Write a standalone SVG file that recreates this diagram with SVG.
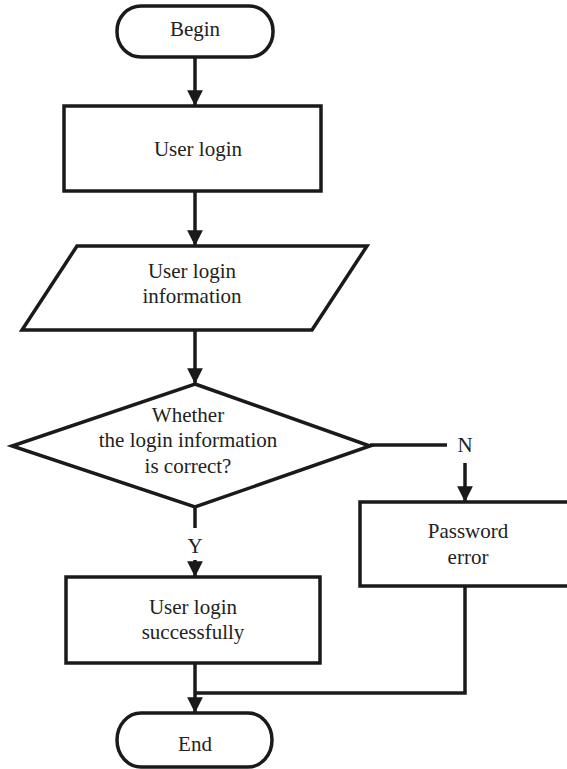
<svg xmlns="http://www.w3.org/2000/svg" width="567" height="769" viewBox="0 0 567 769">
<defs>
<marker id="ah" viewBox="0 0 10 10" refX="10" refY="5" markerWidth="4.5" markerHeight="4.5" orient="auto" markerUnits="strokeWidth">
<path d="M0,0 L10,5 L0,10 z" fill="#1a1a1a"/>
</marker>
</defs>
<style>
.shape{fill:#fff;stroke:#1a1a1a;stroke-width:3.5}
.conn{fill:none;stroke:#1a1a1a;stroke-width:3.5}
.arr{marker-end:url(#ah)}
.t{font-family:'Liberation Serif','Times New Roman',serif;font-size:21px;fill:#222;text-anchor:middle}
</style>
<rect width="567" height="769" fill="#fff"/>
<g id="connectors">
<line class="conn arr" x1="195" y1="57" x2="195" y2="106"/>
<line class="conn arr" x1="195" y1="191" x2="195" y2="246"/>
<line class="conn arr" x1="195" y1="330" x2="195" y2="384"/>
<line class="conn" x1="370" y1="445" x2="447" y2="445"/>
<line class="conn arr" x1="465" y1="463" x2="465" y2="502"/>
<line class="conn" x1="195" y1="507" x2="195" y2="528"/>
<line class="conn arr" x1="195" y1="560" x2="195" y2="577"/>
<line class="conn arr" x1="195" y1="663" x2="195" y2="713"/>
<polyline class="conn" points="465,586 465,693 195,693"/>
<text class="t" font-family="Liberation Serif, serif" x="465" y="452">N</text>
<text class="t" font-family="Liberation Serif, serif" x="195" y="553">Y</text>
</g>
<g id="begin">
<rect class="shape" x="117" y="6" width="156" height="51" rx="24" ry="25"/>
<text class="t" font-family="Liberation Serif, serif" x="195" y="36">Begin</text>
</g>
<g id="user-login">
<rect class="shape" x="64" y="106" width="257" height="85"/>
<text class="t" font-family="Liberation Serif, serif" x="198" y="156">User login</text>
</g>
<g id="login-info">
<polygon class="shape" points="77,246 367,246 312,330 22,330"/>
<text class="t" font-family="Liberation Serif, serif" x="192" y="278">User login</text>
<text class="t" font-family="Liberation Serif, serif" x="192" y="303">information</text>
</g>
<g id="decision">
<polygon class="shape" points="195,384 370,446 195,507 12,446"/>
<text class="t" font-family="Liberation Serif, serif" x="188" y="422">Whether</text>
<text class="t" font-family="Liberation Serif, serif" x="188" y="447">the login information</text>
<text class="t" font-family="Liberation Serif, serif" x="188" y="473">is correct?</text>
</g>
<g id="password-error">
<rect class="shape" x="360" y="502" width="210" height="84"/>
<text class="t" font-family="Liberation Serif, serif" x="468" y="538">Password</text>
<text class="t" font-family="Liberation Serif, serif" x="468" y="564">error</text>
</g>
<g id="login-success">
<rect class="shape" x="66" y="577" width="254" height="86"/>
<text class="t" font-family="Liberation Serif, serif" x="193" y="614">User login</text>
<text class="t" font-family="Liberation Serif, serif" x="193" y="639">successfully</text>
</g>
<g id="end">
<rect class="shape" x="117" y="713" width="155" height="54" rx="24" ry="27"/>
<text class="t" font-family="Liberation Serif, serif" x="195" y="751">End</text>
</g>
</svg>
